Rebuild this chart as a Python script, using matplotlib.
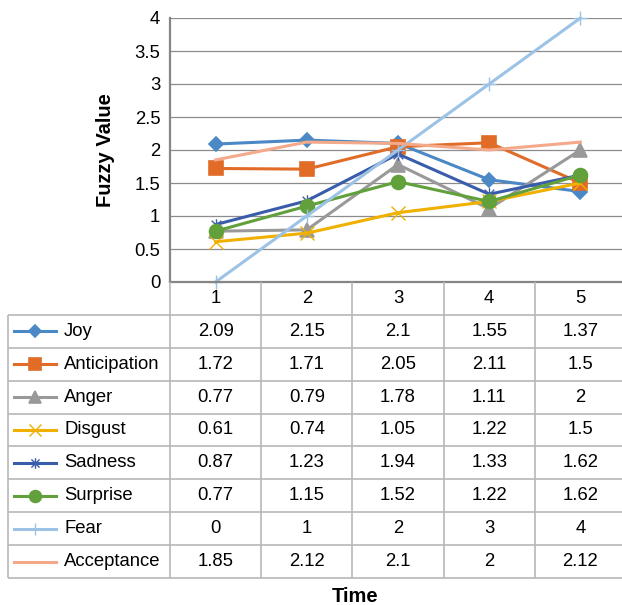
import numpy as np
import matplotlib
matplotlib.use("Agg")
import matplotlib.pyplot as plt
from matplotlib.path import Path

plt.rcParams["font.family"] = ["Liberation Sans", "DejaVu Sans"]

# Tidssteg och emotioner
times = [1, 2, 3, 4, 5]
emotions = ["Joy", "Anticipation", "Anger", "Disgust",
            "Sadness", "Surprise", "Fear", "Acceptance"]

joy = [2.09, 2.15, 2.1, 1.55, 1.37]
anticipation = [1.72, 1.71, 2.05, 2.11, 1.5]
anger = [0.77, 0.79, 1.78, 1.11, 2]
disgust = [0.61, 0.74, 1.05, 1.22, 1.5]
sadness = [0.87, 1.23, 1.94, 1.33, 1.62]
surprise = [0.77, 1.15, 1.52, 1.22, 1.62]
fear = [0, 1, 2, 3, 4]
acceptance = [1.85, 2.12, 2.1, 2, 2.12]

series = [joy, anticipation, anger, disgust, sadness, surprise, fear, acceptance]

# Stjärnmarkör: kryss plus lodrätt streck
star = Path([(-1, -1), (1, 1), (-1, 1), (1, -1), (0, -1.3), (0, 1.3)],
            [Path.MOVETO, Path.LINETO] * 3)

colors = ["#4a89c5", "#e06c28", "#999999", "#f0b000",
          "#3a5dab", "#62a03c", "#9cc2e6", "#f4a98b"]
markers = ["D", "s", "^", "x", star, "o", "+", None]
msizes = [7, 10, 10, 10, 9, 10, 10, 0]
mew = [1.2, 1.2, 1.2, 1.0, 1.0, 1.2, 1.0, 1.0]

W, H = 622, 605
fig = plt.figure(figsize=(W / 100, H / 100), dpi=100)


def px_axes(x0, y0, x1, y1):
    return fig.add_axes([x0 / W, 1 - y1 / H, (x1 - x0) / W, (y1 - y0) / H])


# Diagramyta
ax = px_axes(170, 18, 626, 282)
ax.set_xlim(0.5, 5.5)
ax.set_ylim(0, 4)
ax.set_yticks(np.arange(0, 4.01, 0.5))
ax.set_yticklabels([f"{v:g}" for v in np.arange(0, 4.01, 0.5)], fontsize=13.3)
ax.set_xticks([])
ax.tick_params(axis="y", length=0, pad=7)
ax.grid(axis="y", color="#8c8c8c", linewidth=0.9)
ax.set_axisbelow(True)
for side in ["top", "right"]:
    ax.spines[side].set_visible(False)
for side in ["left", "bottom"]:
    ax.spines[side].set_color("#868686")
    ax.spines[side].set_linewidth(1.6)
ax.set_ylabel("Fuzzy Value", fontsize=14.5, fontweight="bold", labelpad=14)

for vals, c, m, ms, ew in zip(series, colors, markers, msizes, mew):
    kw = dict(color=c, linewidth=2.2, clip_on=False)
    if m is not None:
        kw.update(marker=m, markersize=ms, markeredgecolor=c,
                  markerfacecolor=c, markeredgewidth=ew)
    ax.plot(times, vals, **kw)

# Datatabell under diagrammet
label_w = (170 - 8) / ((626 - 170) / 5)
tax = px_axes(8, 282, 626, 578)
tax.set_xlim(0.5 - label_w, 5.5)
tax.set_ylim(len(emotions) + 1, 0)
tax.axis("off")

grid_c = "#b8b8b8"
tax.hlines(np.arange(1, len(emotions) + 2), 0.5 - label_w, 5.5,
           color=grid_c, linewidth=1.2, clip_on=False)
tax.vlines([0.5 - label_w], 1, len(emotions) + 1, color=grid_c,
           linewidth=1.2, clip_on=False)
tax.vlines(np.arange(0.5, 5.0, 1.0), 0, len(emotions) + 1, color=grid_c,
           linewidth=1.2, clip_on=False)

for t in times:
    tax.text(t, 0.5, str(t), ha="center", va="center", fontsize=13.3)

key_x0 = 0.5 - label_w + 6 / 91.2
key_x1 = 0.5 - label_w + 48 / 91.2
for i, (name, vals, c, m, ms, ew) in enumerate(zip(emotions, series, colors,
                                                  markers, msizes, mew)):
    yc = i + 1.5
    tax.plot([key_x0, key_x1], [yc, yc], color=c, linewidth=2.2)
    if m is not None:
        tax.plot([(key_x0 + key_x1) / 2], [yc], marker=m, color=c,
                 markersize=ms * 0.85, markeredgewidth=ew)
    tax.text(0.5 - label_w + 56 / 91.2, yc, name, ha="left", va="center",
             fontsize=13.3)
    for t, v in zip(times, vals):
        tax.text(t, yc, f"{v:g}", ha="center", va="center", fontsize=13.3)

fig.text(355 / W, 1 - 596 / H, "Time", ha="center", va="center",
         fontsize=14.5, fontweight="bold")

fig.savefig("out.png", dpi=100)
